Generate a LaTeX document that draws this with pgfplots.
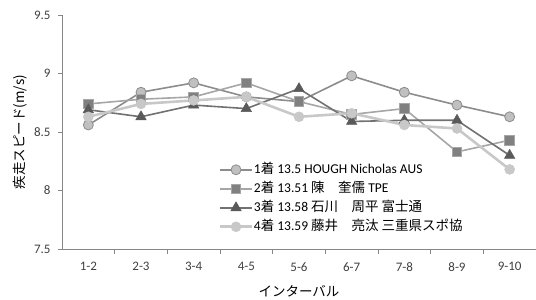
\documentclass[border=0pt]{standalone}
\usepackage{pgfplots}
\pgfplotsset{compat=1.18}
\usepackage{fontspec}
\setmainfont{Carlito}
\newfontfamily\cjk{Noto Sans CJK JP}
\definecolor{sA}{HTML}{8C8C8C}
\definecolor{sAf}{HTML}{C0C0C0}
\definecolor{sB}{HTML}{A6A6A6}
\definecolor{sBf}{HTML}{808080}
\definecolor{sC}{HTML}{717171}
\definecolor{sCf}{HTML}{5A5A5A}
\definecolor{sD}{HTML}{C8C8C8}
\definecolor{axc}{HTML}{868686}
\begin{document}
\begin{tikzpicture}
\begin{axis}[
  scale only axis, width=474pt, height=234pt,
  at={(0pt,0pt)}, anchor=south west,
  xmin=-0.5, xmax=8.5, ymin=7.5, ymax=9.5,
  xtick={0,...,8},
  xticklabels={1-2,2-3,3-4,4-5,5-6,6-7,7-8,8-9,9-10},
  minor xtick={0.5,1.5,...,7.5},
  major x tick style={draw=none},
  minor x tick style={draw=axc, line width=0.8pt},
  minor tick length=5pt,
  ytick={7.5,8,8.5,9,9.5},
  yticklabels={7.5,8,8.5,9,9.5},
  major tick length=4pt,
  tick align=outside,
  axis x line*=bottom, axis y line*=left,
  axis line style={draw=axc, line width=0.9pt},
  ytick style={draw=axc, line width=0.8pt},
  xtick pos=bottom, ytick pos=left,
  tick label style={font=\fontsize{13}{15}\selectfont, text=black!75},
  xticklabel style={yshift=-6pt},
  yticklabel style={xshift=-4pt},
  xlabel={\cjk インターバル},
  ylabel={\cjk 疾走スピード(m/s)},
  xlabel style={font=\fontsize{13.5}{15}\selectfont, at={(axis description cs:0.5,-0.179)}, anchor=center},
  ylabel style={font=\fontsize{13.5}{15}\selectfont, at={(axis description cs:-0.088,0.5)}, anchor=center, rotate=0},
  legend style={draw=none, fill=none, at={(0.331,0.38)}, anchor=north west,
    font=\fontsize{13.5}{15}\selectfont, row sep=0pt, inner sep=0pt,
    nodes={inner xsep=1pt, inner ysep=3pt, text height=10pt, text depth=3pt}},
  legend cell align=left,
  legend image code/.code={\draw[mark repeat=2,mark phase=2] plot coordinates {(0cm,0cm) (0.55cm,0cm) (1.1cm,0cm)};},
  clip=false,
]
\addplot[color=sA, line width=1.6pt, mark=*, mark size=5pt, mark options={fill=sAf, draw=sA, line width=0.8pt}]
 coordinates {(0,8.56) (1,8.84) (2,8.92) (3,8.80) (4,8.76) (5,8.98) (6,8.84) (7,8.73) (8,8.63)};
\addlegendentry{1{\cjk 着} 13.5 HOUGH Nicholas AUS}
\addplot[color=sB, line width=1.6pt, mark=square*, mark size=4.8pt, mark options={fill=sBf, draw=sB, line width=0.8pt}]
 coordinates {(0,8.74) (1,8.78) (2,8.80) (3,8.92) (4,8.76) (5,8.65) (6,8.70) (7,8.33) (8,8.43)};
\addlegendentry{2{\cjk 着} 13.51 {\cjk 陳\quad 奎儒} TPE}
\addplot[color=sC, line width=1.6pt, mark=triangle*, mark size=6pt, mark options={fill=sCf, draw=sCf, line width=0.5pt}]
 coordinates {(0,8.69) (1,8.63) (2,8.73) (3,8.70) (4,8.87) (5,8.59) (6,8.60) (7,8.60) (8,8.30)};
\addlegendentry{3{\cjk 着} 13.58 {\cjk 石川\quad 周平 富士通}}
\addplot[color=sD, line width=2.6pt, mark=*, mark size=5pt, mark options={fill=sD, draw=sD, line width=0.5pt}]
 coordinates {(0,8.63) (1,8.74) (2,8.77) (3,8.80) (4,8.63) (5,8.66) (6,8.56) (7,8.53) (8,8.18)};
\addlegendentry{4{\cjk 着} 13.59 {\cjk 藤井\quad 亮汰 三重県スポ協}}
\end{axis}
\pgfresetboundingbox
\useasboundingbox (-62pt,-51pt) rectangle (474pt,249pt);
\end{tikzpicture}
\end{document}
